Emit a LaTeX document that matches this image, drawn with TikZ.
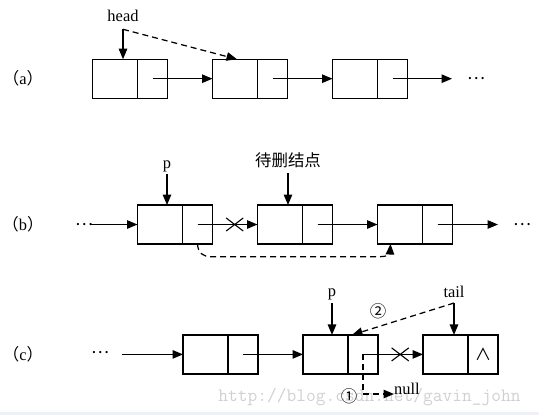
\documentclass[tikz,border=0pt]{standalone}
\usepackage{fontspec}
\setmainfont{Liberation Serif}
\newfontfamily\cjk{Noto Sans CJK SC}
\usetikzlibrary{positioning,arrows.meta,shapes.misc}

\definecolor{markgray}{RGB}{208,208,208}
\definecolor{bandblue}{RGB}{238,242,248}

\begin{document}
\begin{tikzpicture}[x=1bp, y=-1bp, node distance = 0pt,
font=\fontsize{16.5}{20}\selectfont,
LeftStyle/.style={draw, line width=1.25bp, minimum width=45bp, minimum height=39bp,
                inner sep=0pt, outer sep=0pt},
RightStyle/.style={LeftStyle, minimum width=30bp},
LinkStyle/.style={line width=1.25bp, -{Triangle[length=10.5bp,width=8.5bp]}},
DashStyle/.style={LinkStyle, dash pattern=on 6bp off 4bp},
CutStyle/.style={cross out, draw, line width=1.1bp, minimum width=16bp,
                minimum height=12bp, inner sep=0pt, pos=0.62},
LabelStyle/.style={anchor=base, inner sep=0pt},
DotsStyle/.style={inner sep=0pt, font=\fontsize{17}{20}\selectfont\cjk},]
\useasboundingbox (0,0) rectangle (539,415);
\fill[bandblue] (0,412) rectangle (539,415);
\node[anchor=base, text=markgray, font=\fontsize{19}{19}\selectfont\ttfamily] (mark)
  at (369.5,401) {http://blog.csdn.net/gavin\_john};

% (a)
\node (la) at (23,78.7) {{\cjk （}a{\cjk ）}};
\node [LeftStyle] (l11) at (115,78.7) {};
\node [RightStyle, right=of l11] (r11) {};
\node [LeftStyle, right=45bp of r11] (l12) {};
\node [RightStyle, right=of l12] (r12) {};
\node [LeftStyle, right=45bp of r12] (l13) {};
\node [RightStyle, right=of l13] (r13) {};
\node [DotsStyle] (ea) at (476,78.7) {…};
\coordinate (ta) at (452,78.7);
\draw [LinkStyle] (r11.center) -- (l12.west);
\draw [LinkStyle] (r12.center) -- (l13.west);
\draw [LinkStyle] (r13.center) -- (ta);
\node [LabelStyle] (head) at (123,21.7) {head};
\draw [LinkStyle] ([yshift=-7.6bp]head.base) -- (head.base |- l11.north);
\draw [DashStyle] ([yshift=-7.6bp]head.base) -- ([xshift=2bp]l12.north);

% (b)
\node (lb) at (23,224.5) {{\cjk （}b{\cjk ）}};
\node [LeftStyle] (l21) at (160,224.5) {};
\node [RightStyle, right=of l21] (r21) {};
\node [LeftStyle, right=45bp of r21] (l22) {};
\node [RightStyle, right=of l22] (r22) {};
\node [LeftStyle, right=45bp of r22] (l23) {};
\node [RightStyle, right=of l23] (r23) {};
\node [DotsStyle] (sb) at (84,224.5) {…};
\node [DotsStyle] (eb) at (522,224.5) {…};
\coordinate (tb) at (498,224.5);
\coordinate (fb) at (91,224.5);
\draw [LinkStyle] (fb) -- (l21.west);
\draw [LinkStyle] (r21.center) -- node [CutStyle] {} (l22.west);
\draw [LinkStyle] (r22.center) -- (l23.west);
\draw [LinkStyle] (r23.center) -- (tb);
\node [LabelStyle] (pb) at (167,168) {p};
\draw [LinkStyle] ([yshift=-6bp]pb.base) -- (pb.base |- l21.north);
\node (del) at (288,160) {\cjk 待删结点};
\draw [LinkStyle] ([yshift=-13bp]del.center) -- (del.center |- l22.north);
\draw [DashStyle] (r21.south) .. controls (198,253) and (203,256.7) .. (211,256.7)
  -- (380,256.7) .. controls (387,256.7) and (390,254) .. ([xshift=13bp]l23.south west);

% (c)
\node (lc) at (23,354.4) {{\cjk （}c{\cjk ）}};
\node [LeftStyle] (l31) at (205.5,354.4) {};
\node [RightStyle, right=of l31] (r31) {};
\node [LeftStyle, right=45bp of r31] (l32) {};
\node [RightStyle, right=of l32] (r32) {};
\node [LeftStyle, right=45bp of r32] (l33) {};
\node [RightStyle, right=of l33] (r33) {\cjk ∧};
\node [DotsStyle] (sc) at (100,353) {…};
\coordinate (tc) at (122,354.4);
\draw [LinkStyle] (tc) -- (l31.west);
\draw [LinkStyle] (r31.center) -- (l32.west);
\draw [LinkStyle] (r32.center) -- node [CutStyle] {} (l33.west);
\node [LabelStyle] (pc) at (332,296) {p};
\draw [LinkStyle] ([yshift=-7bp]pc.base) -- (pc.base |- l32.north);
\node [LabelStyle] (tail) at (454,297) {tail};
\draw [LinkStyle] ([yshift=-6bp]tail.base) -- (tail.base |- l33.north);
\draw [DashStyle] ([yshift=-6bp]tail.base) -- ([xshift=4bp]r32.north west);
\node (two) at (378,311) {\cjk ②};
\node [LabelStyle, anchor=base west] (null) at (394,394) {null};
\draw [DashStyle] (r32.center) |- (null.base west);
\node (one) at (349,396) {\cjk ①};
\end{tikzpicture}
\end{document}
